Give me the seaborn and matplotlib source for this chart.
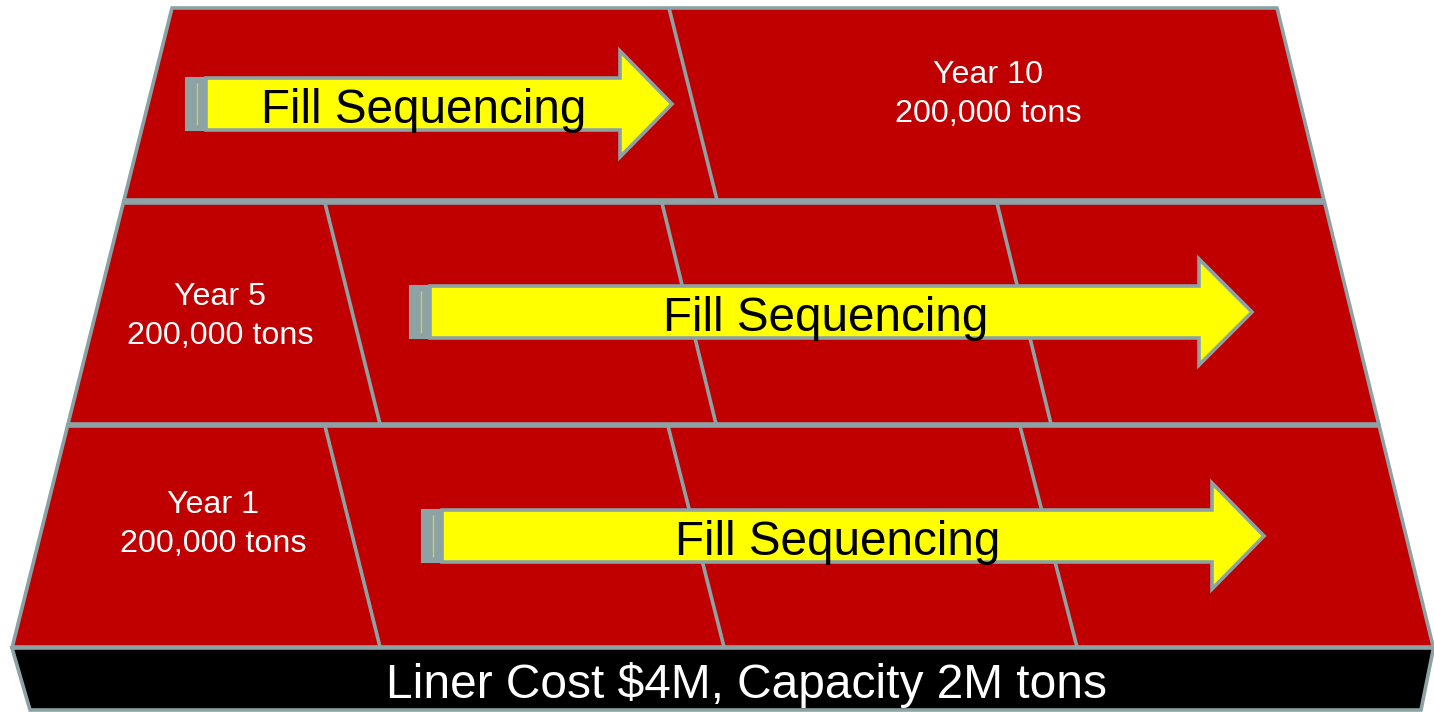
import matplotlib
matplotlib.use("Agg")
import matplotlib.pyplot as plt
from matplotlib.patches import Polygon
import seaborn as sns

# ---- content ----
years = [10, 5, 1]                      # top row, middle row, bottom row
tons = [200000, 200000, 200000]
arrow_label = "Fill Sequencing"
liner_cost_musd = 4
capacity_mtons = 2

# ---- layout (pixel space, y grows downward) ----
W, H = 1434, 712
row_top = [8, 203, 426]
row_bot = [200, 424, 647]
# divider lines per row: (x at row top, x at row bottom)
dividers = [
    [(669, 717)],
    [(325, 380), (662, 716), (997, 1051)],
    [(325, 380), (668, 724), (1020, 1077)],
]
# year label: centre x, baseline of first line
label_pos = [(988, 83), (220, 305), (213, 513)]
label_pitch = 39
# arrows: tail x, centre y, head start x, tip x
arrows = [(186, 104, 620, 672), (410, 312, 1199, 1252), (422, 536, 1212, 1264)]
arrow_text_x = [424, 826, 838]
base_top, base_bot = 648, 710

RED = "#C00000"
GREY = "#8DA2A4"
YELLOW = "#FFFF00"

sns.set_theme(style="white")
plt.rcParams["font.family"] = ["Liberation Sans", "DejaVu Sans"]

fig = plt.figure(figsize=(W / 100, H / 100), dpi=100)
ax = fig.add_axes([0, 0, 1, 1])
ax.set_xlim(0, W)
ax.set_ylim(H, 0)
ax.axis("off")


def x_left(y):
    return 172 - 0.25 * (y - 8)


def x_right(y):
    return 1277 + 0.2445 * (y - 8)


LW = 2.6

# floor rows
for i in range(3):
    yt, yb = row_top[i], row_bot[i]
    poly = [(x_left(yt), yt), (x_right(yt), yt), (x_right(yb), yb), (x_left(yb), yb)]
    ax.add_patch(Polygon(poly, closed=True, facecolor=RED, edgecolor=GREY,
                         linewidth=LW, joinstyle="miter", zorder=1))
    for xt, xb in dividers[i]:
        ax.plot([xt, xb], [yt, yb], color=GREY, linewidth=LW,
                solid_capstyle="butt", zorder=2)

# liner base band
base = [(x_left(base_top), base_top), (x_right(base_top), base_top),
        (1421, base_bot), (30, base_bot)]
ax.add_patch(Polygon(base, closed=True, facecolor="black", edgecolor=GREY,
                     linewidth=LW, joinstyle="miter", zorder=1))
ax.text(746, 698,
        f"Liner Cost ${liner_cost_musd}M, Capacity {capacity_mtons}M tons",
        color="white", fontsize=34.5, ha="center", va="baseline", zorder=5)

# year labels
for (x, y), yr, t in zip(label_pos, years, tons):
    ax.text(x, y, f"Year {yr}", color="white", fontsize=23.2,
            ha="center", va="baseline", zorder=5)
    ax.text(x, y + label_pitch, f"{t:,} tons", color="white", fontsize=23.2,
            ha="center", va="baseline", zorder=5)

# striped arrows
bh, hh = 26, 53
for (x0, yc, xh, xt), tx in zip(arrows, arrow_text_x):
    xb = x0 + 20
    body = [(xb, yc - bh), (xh, yc - bh), (xh, yc - hh), (xt, yc),
            (xh, yc + hh), (xh, yc + bh), (xb, yc + bh)]
    ax.add_patch(Polygon(body, closed=True, facecolor=YELLOW, edgecolor=GREY,
                         linewidth=LW, joinstyle="miter", zorder=3))
    # tail stripes
    ax.add_patch(Polygon([(x0, yc - bh), (xb, yc - bh), (xb, yc + bh), (x0, yc + bh)],
                         closed=True, facecolor=GREY, edgecolor=GREY, linewidth=1.5, zorder=4))
    ax.plot([x0 + 11, x0 + 11], [yc - bh + 5, yc + bh - 5], color="#C8D060",
            linewidth=1.0, solid_capstyle="butt", zorder=4)
    ax.text(tx, yc + 19, arrow_label, color="black", fontsize=34.3,
            ha="center", va="baseline", zorder=5)

fig.savefig("out.png", dpi=100)
